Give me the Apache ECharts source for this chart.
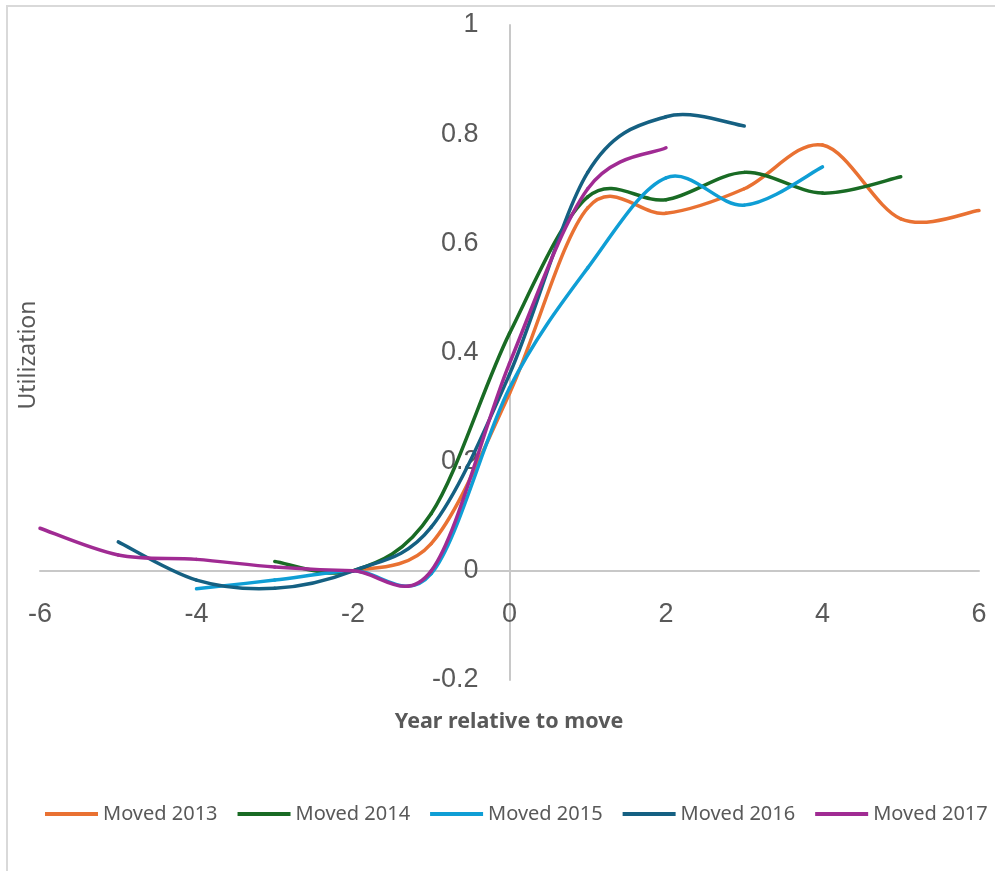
<!DOCTYPE html>
<html>
<head>
<meta charset="utf-8">
<script src="https://cdn.jsdelivr.net/npm/echarts@6/dist/echarts.min.js"></script>
<style>
  html, body { margin: 0; padding: 0; background: #fff; }
  #main { width: 995px; height: 871px; }
</style>
</head>
<body>
<div id="main"></div>
<script>
// years relative to move
var years = [-6, -5, -4, -3, -2, -1, 0, 1, 2, 3, 4, 5, 6];

// utilization by cohort (null = no data that year)
var moved2013 = [null, null, null, null, 0, 0.05, 0.325, 0.665, 0.655, 0.70, 0.78, 0.645, 0.66];
var moved2014 = [null, null, null, 0.017, 0, 0.105, 0.435, 0.685, 0.68, 0.73, 0.692, 0.722, null];
var moved2015 = [null, null, -0.033, -0.017, 0, -0.005, 0.335, 0.555, 0.72, 0.67, 0.74, null, null];
var moved2016 = [null, 0.053, -0.017, -0.032, 0, 0.08, 0.36, 0.73, 0.832, 0.815, null, null, null];
var moved2017 = [0.078, 0.029, 0.021, 0.007, 0, 0.0, 0.38, 0.70, 0.775, null, null, null, null];

var seriesNames = ['Moved 2013', 'Moved 2014', 'Moved 2015', 'Moved 2016', 'Moved 2017'];
var seriesColors = ['#E97132', '#196B24', '#0F9ED5', '#156082', '#A02B93'];
var seriesValues = [moved2013, moved2014, moved2015, moved2016, moved2017];

// axis ranges
var xMin = -6, xMax = 6, yMin = -0.2, yMax = 1;

var W = 995, H = 871;
var gridL = 40, gridR = 16, gridT = 25, gridB = 191;
// axes cross at zero like the Excel chart
var yAxisOffset = -(0 - xMin) / (xMax - xMin) * (W - gridL - gridR);
var xAxisOffset = -(0 - yMin) / (yMax - yMin) * (H - gridT - gridB);

// pair years with values, dropping empty years
function toPoints(vals) {
    var pts = [];
    for (var i = 0; i < years.length; i++) {
        if (vals[i] !== null) pts.push([years[i], vals[i]]);
    }
    return pts;
}

// Excel style smoothed line: one bezier per segment, catmull-rom control points
function smoothRender(points, color) {
    return function (params, api) {
        var i = params.dataIndex;
        if (i >= points.length - 1) return;
        var n = points.length;
        var P = function (k) {
            k = Math.max(0, Math.min(n - 1, k));
            return api.coord(points[k]);
        };
        var p0 = P(i - 1), p1 = P(i), p2 = P(i + 1), p3 = P(i + 2);
        var t = 1 / 6;
        return {
            type: 'bezierCurve',
            shape: {
                x1: p1[0], y1: p1[1],
                x2: p2[0], y2: p2[1],
                cpx1: p1[0] + (p2[0] - p0[0]) * t,
                cpy1: p1[1] + (p2[1] - p0[1]) * t,
                cpx2: p2[0] - (p3[0] - p1[0]) * t,
                cpy2: p2[1] - (p3[1] - p1[1]) * t
            },
            style: { stroke: color, lineWidth: 3.5, fill: null, lineCap: 'round' },
            silent: true
        };
    };
}

var labelColor = '#595959';
var axisColor = '#c8c8c8';

var chart = echarts.init(document.getElementById('main'));
chart.setOption({
    animation: false,
    title: {
        text: 'Year relative to move',
        left: 504,
        top: 706,
        textAlign: 'center',
        textStyle: {
            color: labelColor,
            fontSize: 21.5,
            fontWeight: 'bold',
            fontFamily: 'Noto Sans'
        }
    },
    graphic: [
        {
            type: 'rect',
            shape: { x: 7, y: 6, width: 1200, height: 1200 },
            style: { fill: 'none', stroke: '#d9d9d9', lineWidth: 2 },
            silent: true
        },
        {
            type: 'text',
            x: 28,
            y: 355,
            rotation: Math.PI / 2,
            style: {
                text: 'Utilization',
                fill: labelColor,
                font: '23px "Noto Sans"',
                align: 'center',
                verticalAlign: 'middle'
            }
        }
    ],
    legend: {
        data: seriesNames,
        top: 799,
        left: 40,
        itemWidth: 53,
        itemHeight: 4,
        itemGap: 20,
        icon: 'rect',
        textStyle: {
            color: labelColor,
            fontSize: 20,
            fontFamily: 'Noto Sans'
        }
    },
    grid: {
        left: gridL,
        right: gridR,
        top: gridT,
        bottom: gridB,
        outerBoundsMode: 'none'
    },
    xAxis: {
        type: 'value',
        min: xMin,
        max: xMax,
        interval: 2,
        position: 'bottom',
        offset: xAxisOffset,
        axisLine: { onZero: false, lineStyle: { color: axisColor, width: 2 } },
        axisTick: { show: false },
        splitLine: { show: false },
        axisLabel: {
            color: labelColor,
            fontSize: 27,
            fontFamily: 'Liberation Sans',
            margin: 30
        }
    },
    yAxis: {
        type: 'value',
        min: yMin,
        max: yMax,
        interval: 0.2,
        position: 'left',
        offset: yAxisOffset,
        axisLine: { show: true, onZero: false, lineStyle: { color: axisColor, width: 2 } },
        axisTick: { show: false },
        splitLine: { show: false },
        axisLabel: {
            color: labelColor,
            fontSize: 27,
            fontFamily: 'Liberation Sans',
            margin: 31
        }
    },
    series: seriesNames.map(function (name, i) {
        var pts = toPoints(seriesValues[i]);
        return {
            name: name,
            type: 'custom',
            data: pts,
            encode: { x: 0, y: 1 },
            renderItem: smoothRender(pts, seriesColors[i]),
            itemStyle: { color: seriesColors[i] }
        };
    })
});
</script>
</body>
</html>
